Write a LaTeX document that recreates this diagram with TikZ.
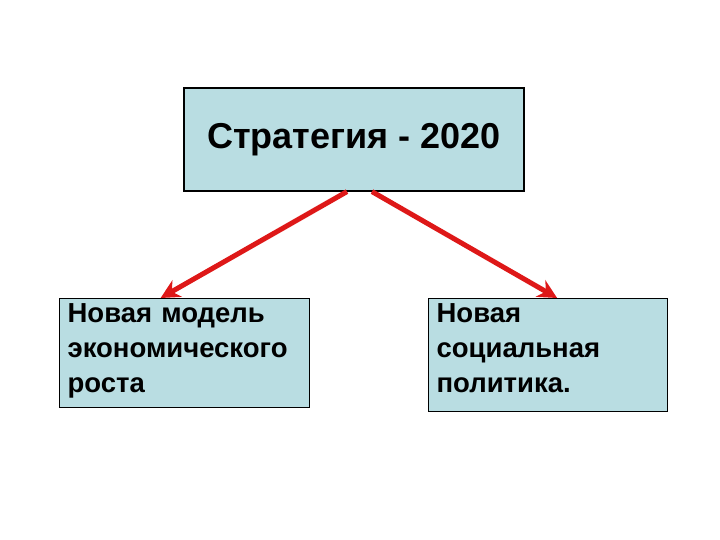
\documentclass[tikz,border=0pt]{standalone}
\usepackage{fontspec}
\setmainfont{Liberation Sans}
\usetikzlibrary{arrows.meta}
\definecolor{boxfill}{RGB}{185,221,226}
\definecolor{arrowred}{RGB}{222,24,24}
\tikzset{
  box/.style={draw=black, line width=1.2pt, fill=boxfill, rectangle, font=\bfseries},
  textbox/.style={box, anchor=north west, align=left, inner xsep=8pt, inner ysep=4pt, text height=20pt, font=\fontsize{27.5}{35}\bfseries},
  branch/.style={draw=arrowred, line width=5pt, -{Stealth[length=19pt,width=19pt]}}
}

\begin{document}
\begin{tikzpicture}[x=1pt, y=-1pt]
			%%%%% START %%%%%
			
			\useasboundingbox (0, 0) rectangle (720, 540);
			
			\node[box, minimum width=340pt, minimum height=103pt, font=\fontsize{36}{40}\bfseries] (strat) at (354, 139.5) {Стратегия - 2020};
			
			\node[textbox, minimum width=250pt, text width=234pt, text depth=81pt] (model) at (59, 298) {Новая модель\\экономического\\роста};
			\node[textbox, minimum width=239pt, text width=223pt, text depth=85pt] (social) at (428, 298) {Новая\\социальная\\политика.};
			
			\draw[branch] ([xshift=-7pt]strat.south) -- ([xshift=-24pt]model.north);
			\draw[branch] ([xshift=18pt]strat.south) -- ([xshift=9pt]social.north);
			
			%%%%% END %%%%%
		\end{tikzpicture}
\end{document}
